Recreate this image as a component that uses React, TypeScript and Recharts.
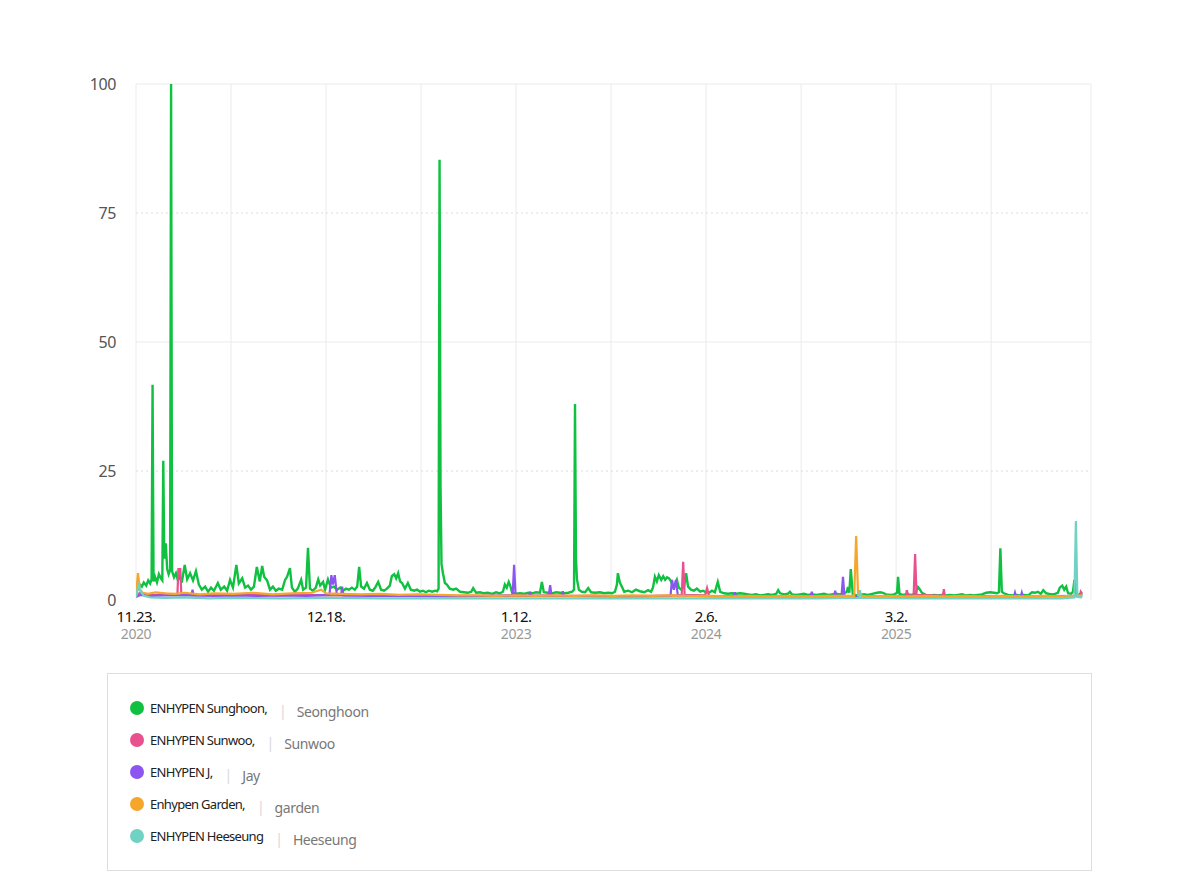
import React from 'react';
import { LineChart, Line, XAxis, YAxis, CartesianGrid, ReferenceLine } from 'recharts';

// days counted from 2020-11-23, values are the relative search index (0-100)
const sunghoon: [number, number][] = [
  [0, 1.4], [4, 2.2], [8, 3.0], [12, 2.6], [16, 3.4], [21, 2.8], [25, 3.8], [29, 3.2], [32, 4.0], [34, 41.7],
  [36, 3.6], [39, 4.5], [43, 3.4], [47, 5.0], [51, 4.2], [54, 3.8], [56, 27.0], [58, 8.0], [61, 11.0], [64, 6.0],
  [67, 5.0], [70, 5.8], [72, 100], [74, 5.6], [78, 4.4], [82, 5.2], [86, 3.8], [90, 4.6], [94, 3.4], [100, 6.8],
  [105, 4.0], [111, 5.2], [117, 3.8], [123, 5.6], [129, 3.0], [135, 2.0], [142, 2.6], [148, 1.6], [154, 2.4], [160, 1.8],
  [168, 3.3], [174, 2.0], [181, 2.6], [187, 1.8], [193, 3.9], [199, 2.4], [206, 6.8], [211, 3.2], [218, 4.2], [224, 2.4],
  [230, 2.8], [236, 2.0], [242, 2.6], [248, 6.4], [254, 3.6], [259, 6.6], [263, 4.5], [269, 3.8], [275, 2.0], [281, 2.6],
  [287, 1.8], [293, 2.2], [300, 2.0], [306, 3.9], [310, 4.5], [316, 6.2], [320, 2.4], [326, 1.6], [332, 2.2], [339, 3.9],
  [343, 2.0], [349, 2.4], [353, 10.1], [357, 2.2], [363, 1.8], [369, 2.4], [374, 4.0], [378, 2.8], [384, 3.5], [388, 2.0],
  [394, 4.0], [400, 2.4], [406, 2.6], [413, 2.0], [419, 2.4], [425, 1.8], [431, 2.2], [437, 2.0], [443, 2.4], [449, 2.0],
  [454, 2.6], [458, 6.4], [462, 2.6], [468, 2.2], [474, 3.3], [480, 2.0], [486, 1.8], [491, 2.4], [497, 3.5], [503, 2.0],
  [509, 1.8], [515, 2.2], [521, 2.8], [525, 4.6], [530, 5.0], [534, 4.2], [538, 5.2], [542, 3.6], [546, 3.3], [552, 2.2],
  [558, 3.3], [564, 2.0], [571, 1.8], [577, 2.0], [583, 1.6], [589, 1.8], [595, 1.5], [601, 1.8], [608, 1.6], [614, 1.8],
  [618, 1.7], [621, 2.2], [623, 85.3], [625, 22.0], [627, 7.0], [630, 5.2], [634, 3.3], [638, 3.0], [644, 2.2], [651, 2.0],
  [657, 2.2], [665, 1.6], [673, 1.5], [681, 1.4], [688, 1.6], [692, 2.3], [698, 1.4], [706, 1.5], [714, 1.3], [722, 1.4],
  [731, 1.2], [739, 1.5], [747, 1.3], [753, 1.6], [757, 3.0], [761, 2.4], [765, 3.5], [768, 2.8], [772, 1.4], [780, 1.2],
  [788, 1.3], [796, 1.2], [805, 1.4], [813, 1.3], [821, 1.5], [829, 1.4], [833, 3.5], [837, 1.5], [846, 1.4], [854, 1.3],
  [862, 1.5], [870, 1.4], [878, 1.3], [887, 1.4], [895, 1.6], [899, 2.0], [901, 38.0], [903, 8.0], [905, 4.0], [909, 2.0],
  [915, 1.6], [922, 1.5], [928, 2.3], [934, 1.5], [942, 1.4], [952, 1.5], [961, 1.3], [969, 1.4], [977, 1.3], [983, 1.6],
  [987, 3.0], [989, 5.2], [993, 3.4], [997, 2.6], [1002, 1.6], [1010, 1.8], [1018, 1.5], [1026, 2.0], [1034, 1.7], [1043, 1.5],
  [1051, 1.9], [1057, 1.6], [1061, 2.4], [1065, 4.5], [1069, 3.6], [1073, 4.8], [1078, 3.9], [1082, 4.6], [1086, 3.9], [1090, 4.4],
  [1094, 4.2], [1098, 3.6], [1102, 2.6], [1106, 3.0], [1110, 3.9], [1114, 2.4], [1119, 2.0], [1125, 2.6], [1129, 5.2], [1133, 2.6],
  [1139, 2.0], [1145, 1.8], [1151, 2.2], [1158, 1.6], [1164, 1.8], [1170, 1.5], [1176, 1.4], [1182, 1.8], [1188, 1.5], [1194, 3.5],
  [1199, 1.6], [1207, 1.3], [1215, 1.2], [1223, 1.3], [1231, 1.2], [1240, 1.3], [1248, 1.2], [1256, 1.1], [1264, 1.0], [1272, 1.1],
  [1281, 0.9], [1289, 1.0], [1297, 1.1], [1305, 1.0], [1314, 1.2], [1318, 1.9], [1322, 1.3], [1330, 1.1], [1338, 1.2], [1342, 1.6],
  [1346, 1.1], [1355, 1.0], [1363, 1.1], [1371, 1.2], [1379, 1.0], [1387, 1.1], [1396, 1.0], [1404, 1.1], [1412, 1.2], [1420, 1.0],
  [1428, 1.1], [1437, 1.2], [1445, 1.1], [1453, 1.3], [1459, 1.6], [1461, 2.5], [1464, 1.4], [1467, 6.0], [1471, 1.2], [1478, 0.9],
  [1486, 1.0], [1494, 1.1], [1502, 1.0], [1511, 1.2], [1521, 1.4], [1527, 1.5], [1533, 1.4], [1539, 1.1], [1548, 1.0], [1556, 1.1],
  [1562, 1.4], [1564, 4.5], [1567, 1.2], [1574, 1.0], [1582, 1.1], [1591, 1.0], [1599, 1.2], [1605, 2.5], [1609, 2.0], [1613, 1.4],
  [1621, 1.0], [1630, 0.9], [1638, 1.0], [1646, 0.9], [1654, 1.0], [1662, 0.9], [1671, 1.0], [1679, 0.9], [1687, 1.0], [1695, 1.1],
  [1703, 0.9], [1712, 1.0], [1720, 0.9], [1728, 1.0], [1736, 1.1], [1745, 1.4], [1753, 1.5], [1761, 1.4], [1767, 1.3], [1771, 1.5],
  [1774, 10.0], [1777, 1.6], [1781, 1.3], [1790, 1.0], [1798, 0.9], [1806, 1.0], [1814, 0.9], [1822, 1.0], [1831, 0.9], [1839, 1.5],
  [1845, 1.4], [1851, 1.6], [1857, 1.2], [1862, 1.9], [1868, 1.3], [1874, 1.2], [1880, 1.1], [1886, 1.2], [1892, 1.4], [1896, 2.4],
  [1901, 2.8], [1905, 2.0], [1909, 2.6], [1913, 1.3], [1919, 1.2], [1923, 1.6], [1926, 3.9], [1929, 1.2], [1933, 1.0], [1937, 1.1],
  [1942, 0.9],
];

const sunwoo: [number, number][] = [
  [0, 0.7], [8, 1.4], [20, 1.1], [40, 1.0], [60, 1.2], [85, 1.0], [87, 6.0], [91, 6.0], [93, 1.1], [120, 0.9],
  [160, 1.0], [200, 0.9], [240, 1.0], [290, 0.9], [340, 1.0], [400, 0.9], [460, 0.9], [520, 0.8], [580, 0.9], [640, 0.8],
  [700, 0.8], [760, 0.8], [820, 0.8], [880, 0.8], [940, 0.8], [1000, 0.7], [1060, 0.8], [1110, 0.9], [1120, 1.0], [1123, 7.4],
  [1126, 1.0], [1168, 0.9], [1172, 2.3], [1176, 0.8], [1250, 0.7], [1350, 0.7], [1450, 0.7], [1540, 0.7], [1580, 0.8], [1582, 1.9],
  [1585, 0.8], [1596, 0.9], [1599, 8.9], [1602, 1.0], [1656, 0.8], [1658, 2.1], [1660, 0.8], [1750, 0.7], [1850, 0.7], [1937, 0.8],
  [1939, 1.6], [1942, 1.2],
];

const jay: [number, number][] = [
  [0, 0.6], [10, 1.0], [30, 0.8], [60, 0.9], [114, 0.9], [116, 2.0], [118, 0.9], [160, 0.8], [200, 0.9], [250, 0.8],
  [300, 0.9], [350, 0.8], [397, 1.0], [401, 4.8], [404, 3.0], [408, 4.8], [412, 1.2], [421, 1.0], [423, 2.6], [426, 0.9],
  [480, 0.8], [560, 0.8], [640, 0.7], [720, 0.8], [773, 0.9], [776, 6.8], [779, 0.9], [807, 0.8], [809, 1.6], [811, 0.8],
  [847, 0.9], [850, 2.9], [853, 0.8], [874, 0.8], [876, 1.7], [878, 0.8], [950, 0.7], [1050, 0.7], [1097, 0.8], [1100, 3.9],
  [1104, 2.0], [1108, 3.9], [1112, 0.9], [1180, 0.7], [1227, 0.7], [1229, 1.5], [1231, 0.7], [1300, 0.7], [1385, 0.7], [1387, 1.6],
  [1389, 0.7], [1433, 0.7], [1435, 1.8], [1437, 0.7], [1448, 0.8], [1451, 4.5], [1454, 0.8], [1550, 0.6], [1700, 0.7], [1802, 0.7],
  [1804, 1.4], [1806, 0.7], [1816, 0.7], [1818, 1.4], [1820, 0.7], [1942, 0.8],
];

const garden: [number, number][] = [
  [0, 1.0], [4, 5.2], [8, 2.0], [14, 1.4], [25, 1.2], [40, 1.5], [60, 1.3], [80, 1.2], [100, 1.4], [130, 1.1],
  [160, 1.3], [200, 1.2], [240, 1.4], [280, 1.1], [320, 1.3], [360, 1.4], [380, 2.0], [390, 1.3], [420, 1.2], [460, 1.1],
  [500, 1.2], [540, 1.0], [580, 1.1], [620, 1.0], [660, 0.9], [700, 0.9], [740, 0.8], [780, 0.9], [820, 0.8], [860, 0.9],
  [900, 0.8], [940, 0.9], [980, 0.8], [1020, 0.9], [1060, 0.8], [1100, 0.9], [1140, 0.8], [1180, 0.8], [1220, 0.7], [1260, 0.8],
  [1300, 0.7], [1340, 0.8], [1380, 0.7], [1420, 0.8], [1474, 0.8], [1478, 12.4], [1482, 0.9], [1500, 0.7], [1540, 0.8], [1580, 0.7],
  [1620, 0.8], [1660, 0.7], [1700, 0.8], [1740, 0.7], [1780, 0.8], [1820, 0.7], [1860, 0.8], [1900, 0.7], [1942, 0.9],
];

const heeseung: [number, number][] = [
  [0, 0.5], [4, 2.4], [6, 3.0], [10, 1.6], [16, 0.8], [30, 0.5], [60, 0.4], [100, 0.5], [150, 0.3], [200, 0.4],
  [300, 0.3], [400, 0.4], [500, 0.3], [600, 0.3], [700, 0.3], [800, 0.3], [900, 0.3], [1000, 0.3], [1100, 0.3], [1200, 0.3],
  [1300, 0.3], [1400, 0.3], [1484, 0.4], [1486, 1.9], [1488, 0.4], [1600, 0.3], [1700, 0.3], [1800, 0.3], [1900, 0.3], [1926, 0.5],
  [1929, 15.3], [1932, 0.6], [1942, 0.5],
];

const xTicks = [0, 195, 390, 585, 780, 975, 1170, 1365, 1560, 1755];
const tickDates = ['11.23.', '12.18.', '1.12.', '2.6.', '3.2.'];
const tickYears = ['2020', '', '2023', '2024', '2025'];
const yTicks = [0, 25, 50, 75, 100];

const seriesNames = ['ENHYPEN Sunghoon,', 'ENHYPEN Sunwoo,', 'ENHYPEN J,', 'Enhypen Garden,', 'ENHYPEN Heeseung'];
const seriesAliases = ['Seonghoon', 'Sunwoo', 'Jay', 'garden', 'Heeseung'];
const seriesColors = ['#10c040', '#e8508e', '#8c55f2', '#f6a62a', '#6fd2c3'];
const seriesData = [sunghoon, sunwoo, jay, garden, heeseung];

const FONT = '"Noto Sans", "Open Sans", sans-serif';

const DateTick = (props: any) => {
  const { x, y, payload } = props;
  const i = xTicks.indexOf(payload.value);
  if (i < 0 || i % 2 !== 0) return <g />;
  const k = i / 2;
  return (
    <g>
      <text x={x} y={y + 22} textAnchor="middle" fontSize={15} fill="#111" fontFamily={FONT} letterSpacing={-0.6}>
        {tickDates[k]}
      </text>
      <text x={x} y={y + 39} textAnchor="middle" fontSize={14} fill="#999" fontFamily={FONT} letterSpacing={-0.4}>
        {tickYears[k]}
      </text>
    </g>
  );
};

const ValueTick = (props: any) => {
  const { x, y, payload } = props;
  return (
    <text x={x - 20} y={y} dy="0.35em" textAnchor="end" fontSize={16} fill="#555" fontFamily={FONT} letterSpacing={-0.4}>
      {payload.value}
    </text>
  );
};

const App: React.FC = () => {
  return (
    <div style={{ position: 'absolute', left: 0, top: 0, width: 1200, height: 879, background: '#fff', fontFamily: FONT }}>
      <LineChart width={1200} height={660} margin={{ top: 84, right: 109, left: 96, bottom: 10 }}>
        <CartesianGrid horizontal={false} stroke="#ebebeb" />
        <XAxis
          dataKey="day"
          type="number"
          domain={[0, 1960]}
          ticks={xTicks}
          allowDataOverflow
          axisLine={false}
          tickLine={false}
          tickSize={0}
          tickMargin={0}
          height={50}
          tick={<DateTick />}
          interval={0}
        />
        <YAxis
          type="number"
          domain={[0, 100]}
          ticks={yTicks}
          axisLine={false}
          tickLine={false}
          tickSize={0}
          tickMargin={0}
          width={40}
          tick={<ValueTick />}
        />
        <ReferenceLine y={100} stroke="#ebebeb" />
        <ReferenceLine y={75} stroke="#dcdcdc" strokeDasharray="2 3" />
        <ReferenceLine y={50} stroke="#ebebeb" />
        <ReferenceLine y={25} stroke="#dcdcdc" strokeDasharray="2 3" />
        {seriesData.map((pts, i) => (
          <Line
            key={seriesNames[i]}
            data={pts.map(([day, v]) => ({ day, v }))}
            dataKey="v"
            type="linear"
            stroke={seriesColors[i]}
            strokeWidth={i === 0 ? 2.4 : 2.2}
            dot={false}
            activeDot={false}
            isAnimationActive={false}
          />
        ))}
      </LineChart>
      <div
        style={{
          position: 'absolute',
          left: 107,
          top: 673,
          width: 985,
          height: 198,
          border: '1px solid #dedede',
          boxSizing: 'border-box',
          paddingTop: 18,
        }}
      >
        {seriesNames.map((name, i) => (
          <div key={name} style={{ display: 'flex', alignItems: 'center', height: 32, paddingLeft: 22 }}>
            <span
              style={{ width: 14, height: 14, borderRadius: 7, background: seriesColors[i], display: 'inline-block', marginRight: 6 }}
            />
            <span style={{ fontSize: 13, color: '#222', letterSpacing: -0.7 }}>{name}</span>
            <span style={{ color: '#d8d8d8', fontSize: 14, margin: '4px 10px 0 12px' }}>|</span>
            <span style={{ fontSize: 14, color: '#777', marginTop: 6, letterSpacing: -0.4 }}>{seriesAliases[i]}</span>
          </div>
        ))}
      </div>
    </div>
  );
};

export default App;
